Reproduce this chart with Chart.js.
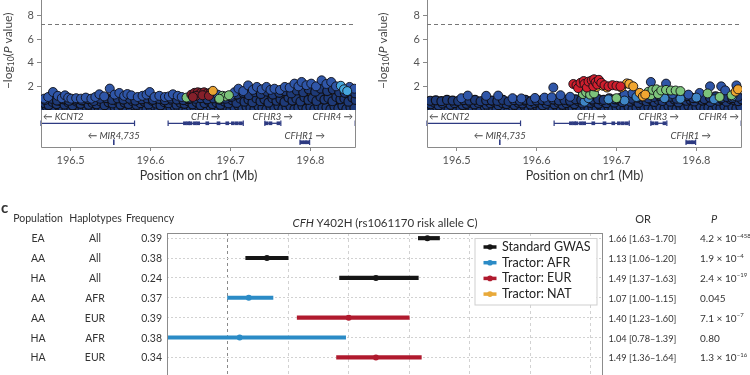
<!DOCTYPE html>
<html>
<head>
<meta charset="utf-8">
<script src="https://cdn.jsdelivr.net/npm/chart.js@4.4.1/dist/chart.umd.min.js"></script>
<style>
  body { margin: 0; width: 750px; height: 375px; overflow: hidden; background: #fff; position: relative; }
  canvas { position: absolute; }
  .lbl { position: absolute; white-space: nowrap; line-height: 1; color: #333; font-family: Lato, "Noto Sans", sans-serif; }
</style>
</head>
<body>
<canvas id="locusA" width="356" height="110" style="left:0;top:0"></canvas>
<canvas id="genesA" width="356" height="80" style="left:0;top:110px"></canvas>
<canvas id="locusB" width="367" height="110" style="left:375px;top:0"></canvas>
<canvas id="genesB" width="367" height="80" style="left:375px;top:110px"></canvas>
<canvas id="forest" width="750" height="205" style="left:0;top:195px"></canvas>
<script>
// ---- locus plots: [position (Mb), -log10 P] ----
const posMin = 196.463, posMax = 196.857;
const posTicks = [196.5, 196.6, 196.7, 196.8];
const logpTicks = [2, 4, 6, 8];
const gwsLine = 7.3;

const leftBand = [
  [196.465,.12],[196.470,.30],[196.475,.08],[196.480,.22],[196.485,.35],[196.490,.15],[196.495,.05],[196.500,.28],[196.505,.18],[196.510,.32],[196.515,.10],[196.520,.25],[196.525,.06],[196.530,.30],[196.535,.20],[196.540,.12],[196.545,.34],[196.550,.08],[196.555,.26],[196.560,.16],[196.565,.30],[196.570,.05],[196.575,.22],[196.580,.35],[196.585,.14],[196.590,.28],[196.595,.09],[196.600,.24],[196.605,.33],[196.610,.11],[196.615,.27],[196.620,.07],[196.625,.20],[196.630,.31],[196.635,.13],[196.640,.26],[196.645,.06],[196.650,.29],[196.655,.18],[196.660,.34],[196.665,.10],[196.670,.23],[196.675,.32],[196.680,.08],[196.685,.25],[196.690,.15],[196.695,.30],[196.700,.06],[196.705,.22],[196.710,.35],[196.715,.12],[196.720,.28],[196.725,.18],[196.730,.09],[196.735,.31],[196.740,.20],[196.745,.05],[196.750,.27],[196.755,.14],[196.760,.33],[196.765,.10],[196.770,.24],[196.775,.30],[196.780,.07],[196.785,.19],[196.790,.34],[196.795,.12],[196.800,.26],[196.805,.08],[196.810,.31],[196.815,.17],[196.820,.23],[196.825,.05],[196.830,.29],[196.835,.14],[196.840,.35],[196.845,.10],[196.850,.25],[196.855,.18],
  [196.4675,.55],[196.4725,.42],[196.4775,.68],[196.4825,.50],[196.4875,.75],[196.4925,.45],[196.4975,.62],[196.5025,.40],[196.5075,.70],[196.5125,.52],[196.5175,.78],[196.5225,.44],[196.5275,.60],[196.5325,.48],[196.5375,.72],[196.5425,.41],[196.5475,.65],[196.5525,.55],[196.5575,.80],[196.5625,.46],[196.5675,.63],[196.5725,.50],[196.5775,.74],[196.5825,.43],[196.5875,.58],[196.5925,.69],[196.5975,.47],[196.6025,.76],[196.6075,.53],[196.6125,.40],[196.6175,.66],[196.6225,.57],[196.6275,.79],[196.6325,.45],[196.6375,.61],[196.6425,.52],[196.6475,.73],[196.6525,.48],[196.6575,.67],[196.6625,.42],[196.6675,.59],[196.6725,.77],[196.6775,.50],[196.6825,.64],[196.6875,.44],[196.6925,.71],[196.6975,.56],[196.7025,.82],[196.7075,.60],[196.7125,.95],[196.7175,.70],[196.7225,.88],[196.7275,.65],[196.7325,.98],[196.7375,.75],[196.7425,.90],[196.7475,.62],[196.7525,1.0],[196.7575,.78],[196.7625,.92],[196.7675,.68],[196.7725,1.05],[196.7775,.80],[196.7825,.96],[196.7875,.72],[196.7925,1.08],[196.7975,.85],[196.8025,1.0],[196.8075,.76],[196.8125,1.12],[196.8175,.88],[196.8225,1.02],[196.8275,.74],[196.8325,1.1],[196.8375,.90],[196.8425,.98],[196.8475,.70],[196.8525,1.05],[196.8565,.85],
  [196.468,.85],[196.476,.95],[196.483,.80],[196.491,.90],[196.498,.78],[196.506,.88],[196.514,.82],[196.522,.92],[196.529,.76],[196.537,.95],[196.545,1.0],[196.552,.85],[196.559,.98],[196.566,.88],[196.574,.95],[196.581,.80],[196.589,.90],[196.596,.98],[196.603,.86],[196.611,.94],[196.618,.82],[196.626,.96],[196.633,.88],[196.641,.84],[196.648,.92],[196.656,.95],[196.663,1.0],[196.671,.90],[196.679,.98],[196.686,.88],[196.694,.95],[196.701,1.1],[196.708,1.3],[196.716,1.45],[196.723,1.25],[196.731,1.5],[196.738,1.35],[196.746,1.55],[196.753,1.3],[196.761,1.45],[196.768,1.6],[196.776,1.4],[196.783,1.65],[196.791,1.5],[196.798,1.75],[196.806,1.55],[196.813,1.8],[196.821,1.6],[196.828,1.75],[196.836,1.5],[196.843,1.45],[196.851,1.6],[196.856,1.4]
];
const leftUpper = [
  [196.467,.96],[196.472,1.1],[196.478,1.52],[196.484,1.2],[196.489,1.0],[196.493,1.24],[196.497,1.05],[196.501,.96],[196.507,1.0],[196.513,.96],[196.519,1.05],[196.526,.96],[196.531,1.1],[196.536,1.33],[196.542,1.15],[196.549,1.81],[196.555,1.3],[196.561,1.44],[196.567,1.2],[196.571,1.35],[196.576,1.24],[196.584,1.1],[196.590,1.2],[196.595,1.3],[196.599,1.52],[196.605,1.1],[196.611,1.2],[196.618,1.1],[196.623,1.15],[196.628,1.33],[196.634,1.2],[196.639,1.1],[196.647,1.0],[196.684,1.3],[196.700,1.2],[196.705,1.5],[196.710,1.8],[196.716,1.6],[196.722,2.08],[196.728,1.7],[196.733,1.95],[196.739,1.75],[196.745,1.95],[196.750,1.7],[196.755,1.8],[196.762,1.7],[196.768,1.95],[196.774,1.9],[196.780,2.23],[196.785,2.0],[196.789,2.37],[196.795,2.1],[196.801,2.23],[196.807,2.0],[196.814,2.51],[196.820,2.2],[196.826,2.37],[196.832,2.0],[196.849,1.95],[196.855,1.8]
];
const leftRed = [[196.651,1.3],[196.655,1.45],[196.659,1.5],[196.663,1.45],[196.667,1.5],[196.671,1.4],[196.675,1.45],[196.657,1.2],[196.665,1.25],[196.673,1.2],[196.653,1.1]];
const leftOrange = [[196.678,1.62]];
const leftGreen = [[196.645,1.05],[196.690,1.2],[196.694,1.15],[196.698,1.25],[196.686,.95]];
const leftCyan = [[196.838,2.05],[196.842,1.75],[196.846,1.6]];

const rightBand = [
  [196.465,.20],[196.470,.08],[196.475,.30],[196.480,.14],[196.485,.25],[196.490,.05],[196.495,.33],[196.500,.18],[196.505,.10],[196.510,.27],[196.515,.35],[196.520,.12],[196.525,.22],[196.530,.07],[196.535,.31],[196.540,.16],[196.545,.26],[196.550,.09],[196.555,.34],[196.560,.20],[196.565,.06],[196.570,.29],[196.575,.13],[196.580,.24],[196.585,.32],[196.590,.08],[196.595,.19],[196.600,.35],[196.605,.11],[196.610,.28],[196.615,.15],[196.620,.05],[196.625,.30],[196.630,.21],[196.635,.10],[196.640,.33],[196.645,.17],[196.650,.26],[196.655,.07],[196.660,.31],[196.665,.14],[196.670,.24],[196.675,.09],[196.680,.35],[196.685,.18],[196.690,.28],[196.695,.06],[196.700,.22],[196.705,.32],[196.710,.12],[196.715,.27],[196.720,.08],[196.725,.20],[196.730,.34],[196.735,.15],[196.740,.25],[196.745,.05],[196.750,.30],[196.755,.18],[196.760,.11],[196.765,.33],[196.770,.22],[196.775,.07],[196.780,.28],[196.785,.16],[196.790,.35],[196.795,.10],[196.800,.24],[196.805,.31],[196.810,.13],[196.815,.20],[196.820,.06],[196.825,.29],[196.830,.17],[196.835,.34],[196.840,.09],[196.845,.26],[196.850,.14],[196.855,.30],
  [196.4675,.48],[196.4725,.62],[196.4775,.40],[196.4825,.55],[196.4875,.66],[196.4925,.44],[196.4975,.58],[196.5025,.69],[196.5075,.42],[196.5125,.52],[196.5175,.64],[196.5225,.47],[196.5275,.60],[196.5325,.70],[196.5375,.45],[196.5425,.56],[196.5475,.67],[196.5525,.41],[196.5575,.59],[196.5625,.50],[196.5675,.68],[196.5725,.43],[196.5775,.61],[196.5825,.54],[196.5875,.70],[196.5925,.46],[196.5975,.57],[196.6025,.65],[196.6075,.40],[196.6125,.53],[196.6175,.69],[196.6225,.48],[196.6275,.62],[196.6325,.44],[196.6375,.58],[196.6425,.66],[196.6475,.50],[196.6525,.72],[196.6575,.55],[196.6625,.78],[196.6675,.60],[196.6725,.70],[196.6775,.52],[196.6825,.75],[196.6875,.58],[196.6925,.80],[196.6975,.62],[196.7025,.85],[196.7075,.66],[196.7125,.90],[196.7175,.70],[196.7225,.82],[196.7275,.60],[196.7325,.88],[196.7375,.74],[196.7425,.92],[196.7475,.68],[196.7525,.85],[196.7575,.76],[196.7625,.95],[196.7675,.70],[196.7725,.88],[196.7775,.64],[196.7825,.92],[196.7875,.78],[196.7925,.86],[196.7975,.72],[196.8025,.95],[196.8075,.80],[196.8125,.90],[196.8175,.68],[196.8225,.94],[196.8275,.78],[196.8325,.88],[196.8375,.70],[196.8425,.92],[196.8475,.82],[196.8525,.75],[196.8565,.90],
  [196.467,.78],[196.474,.82],[196.481,.75],[196.488,.85],[196.495,.80],[196.502,.76],[196.509,.84],[196.516,.79],[196.523,.86],[196.530,.74],[196.537,.82],[196.544,.80],[196.551,.77],[196.558,.85],[196.565,.72],[196.572,.83],[196.579,.78],[196.586,.86],[196.593,.75],[196.600,.81],[196.607,.84],[196.614,.76],[196.621,.88],[196.628,.80],[196.635,.85],[196.642,.78],[196.649,.90],[196.656,.86],[196.663,.95],[196.670,.88],[196.677,.92],[196.684,.85],[196.691,.98],[196.698,.90],[196.705,1.0],[196.712,1.1],[196.719,.95],[196.726,1.05],[196.733,1.15],[196.740,.98],[196.747,1.1],[196.754,1.2],[196.761,1.02],[196.768,1.12],[196.775,.95],[196.782,1.08],[196.789,1.18],[196.796,1.0],[196.803,1.1],[196.810,.92],[196.817,1.05],[196.824,1.15],[196.831,.98],[196.838,1.1],[196.845,1.0],[196.852,1.12]
];
const rightUpper = [[196.506,1.0],[196.514,1.22],[196.537,1.2],[196.552,1.22],[196.570,1.0],[196.581,.98],[196.598,1.02],[196.610,1.05],[196.619,1.08],[196.621,1.9],[196.630,1.25],[196.642,1.12],[196.710,1.3],[196.720,1.4],[196.743,2.37],[196.762,2.23],[196.770,1.35],[196.790,1.3],[196.804,1.44],[196.817,2.0],[196.831,2.0],[196.836,1.66],[196.850,2.08]];
const rightSteel = [[196.660,.7],[196.665,1.0],[196.690,.9],[196.710,.8],[196.725,1.1],[196.760,1.0],[196.780,.95],[196.800,1.05],[196.822,.9],[196.845,1.15]];
const rightRed = [[196.646,2.2],[196.650,2.1],[196.652,1.85],[196.655,2.3],[196.659,2.45],[196.660,2.2],[196.663,1.9],[196.665,2.4],[196.669,2.5],[196.671,2.0],[196.672,2.6],[196.674,2.35],[196.676,2.15],[196.678,2.55],[196.681,2.3],[196.685,2.1],[196.690,2.0],[196.695,2.1],[196.700,2.05],[196.705,2.0]];
const rightOrange = [[196.675,1.95],[196.683,2.05],[196.688,1.9],[196.706,1.9],[196.713,2.25],[196.716,2.2],[196.721,2.0],[196.729,1.45],[196.733,1.15],[196.736,1.3],[196.849,1.55],[196.852,1.75]];
const rightGreen = [[196.658,1.35],[196.662,1.5],[196.667,1.3],[196.672,1.4],[196.700,1.0],[196.740,1.55],[196.743,1.25],[196.745,1.7],[196.750,1.75],[196.752,1.35],[196.756,1.65],[196.762,1.7],[196.768,1.65],[196.774,1.65],[196.780,1.6],[196.814,1.4],[196.829,1.1],[196.844,1.25]];

// ---- genes ----
const geneNames  = ['KCNT2', 'MIR4,735', 'CFH', 'CFHR3', 'CFHR1', 'CFHR4'];
const geneStart  = [196.463, 196.554, 196.622, 196.743, 196.787, 196.856];
const geneEnd    = [196.580, 196.554, 196.716, 196.763, 196.799, 196.857];
const geneRow    = [0, 1, 0, 0, 1, 0];
const geneStrand = ['-', '-', '+', '+', '+', '+'];
const geneExons  = [[], [], [196.643,196.647,196.650,196.6555,196.6596,196.671,196.685,196.696,196.703,196.708,196.713], [196.745,196.750,196.760], [196.789,196.793,196.796], []];

// ---- panel c ----
const populations = ['EA', 'AA', 'HA', 'AA', 'AA', 'HA', 'HA'];
const haplotypes  = ['All', 'All', 'All', 'AFR', 'EUR', 'AFR', 'EUR'];
const frequencies = ['0.39', '0.38', '0.24', '0.37', '0.39', '0.38', '0.34'];
const oddsRatio = [1.66, 1.13, 1.49, 1.07, 1.40, 1.04, 1.49];
const ciLow     = [1.63, 1.06, 1.37, 1.00, 1.23, 0.78, 1.36];
const ciHigh    = [1.70, 1.20, 1.63, 1.15, 1.60, 1.39, 1.64];
const pMantissa = ['4.2', '1.9', '2.4', '0.045', '7.1', '0.80', '1.3'];
const pExponent = [-458, -4, -19, null, -7, null, -16];
const rowMethod = [0, 0, 0, 1, 2, 1, 2];
const methods = ['Standard GWAS', 'Tractor: AFR', 'Tractor: EUR', 'Tractor: NAT'];
const methodColors = ['#151515', '#2b8bc6', '#b01a2e', '#e8a93a'];
const orTicks = [0.8, 1.0, 1.2, 1.4, 1.6, 1.8, 2.0, 2.2];

const FONT = 'Lato, "Noto Sans", sans-serif';
Chart.defaults.font.family = FONT;
Chart.defaults.color = '#555';
const navy = '#2e3b82';

const toXY = arr => arr.map(p => ({x: p[0], y: p[1]}));
const noPad = s => { s.paddingTop = 0; s.paddingBottom = 0; s.paddingLeft = 0; s.paddingRight = 0; };
const baseOptions = {
  responsive: false, animation: false, devicePixelRatio: 1, events: [],
  plugins: {legend: {display: false}, tooltip: {enabled: false}}
};

const yTitle = {
  id: 'yTitle',
  afterDraw(chart) {
    const {ctx, scales: {y}} = chart;
    const parts = [['\u2212log', '12px ' + FONT, 0], ['10', '8.5px ' + FONT, 3], ['(', '12px ' + FONT, 0], ['P', 'italic 12px ' + FONT, 0], [' value)', '12px ' + FONT, 0]];
    ctx.save();
    ctx.translate(8, y.getPixelForValue(5));
    ctx.rotate(-Math.PI / 2);
    ctx.fillStyle = '#444';
    ctx.textBaseline = 'middle';
    ctx.textAlign = 'left';
    let w = 0;
    parts.forEach(p => { ctx.font = p[1]; w += ctx.measureText(p[0]).width; });
    let cx = -w / 2;
    parts.forEach(p => { ctx.font = p[1]; ctx.fillText(p[0], cx, p[2]); cx += ctx.measureText(p[0]).width; });
    ctx.restore();
  }
};

const gwsPlugin = {
  id: 'gws',
  beforeDatasetsDraw(chart) {
    const {ctx, chartArea: a, scales: {y}} = chart;
    const py = Math.round(y.getPixelForValue(gwsLine)) + 0.5;
    ctx.save();
    ctx.strokeStyle = '#777'; ctx.lineWidth = 1; ctx.setLineDash([4, 3]);
    ctx.beginPath(); ctx.moveTo(a.left, py); ctx.lineTo(a.right, py); ctx.stroke();
    ctx.restore();
  }
};

function locusChart(id, axisWidth, groups) {
  return new Chart(document.getElementById(id), {
    type: 'scatter',
    data: {
      datasets: groups.map(g => ({
        data: toXY(g[0]), backgroundColor: g[1], borderColor: '#101016', borderWidth: g[2] || 0.9,
        pointRadius: 4.5, clip: 0
      }))
    },
    options: {
      ...baseOptions,
      layout: {padding: 0, autoPadding: false},
      scales: {
        x: {type: 'linear', display: false, min: posMin, max: posMax},
        y: {
          min: 0, max: 9.3,
          afterBuildTicks: s => { s.ticks = logpTicks.map(v => ({value: v})); },
          afterFit: s => { s.width = axisWidth; noPad(s); },
          grid: {drawOnChartArea: false, tickLength: 4, color: '#888'},
          border: {color: '#888'},
          ticks: {color: '#555', font: {size: 11}, padding: 3}
        }
      }
    },
    plugins: [yTitle, gwsPlugin]
  });
}

const geneLabels = {
  id: 'geneLabels',
  afterDatasetsDraw(chart) {
    const {ctx, chartArea: a, scales: {x, y}} = chart;
    ctx.save();
    ctx.strokeStyle = '#8a8a8a'; ctx.lineWidth = 1;
    ctx.beginPath();
    ctx.moveTo(a.left + 0.5, a.top); ctx.lineTo(a.left + 0.5, a.bottom + 0.5);
    ctx.lineTo(a.right - 0.5, a.bottom + 0.5); ctx.lineTo(a.right - 0.5, a.top);
    ctx.stroke();
    ctx.font = 'italic 9.5px ' + FONT; ctx.fillStyle = '#444'; ctx.textBaseline = 'middle'; ctx.textAlign = 'left';
    geneNames.forEach((name, i) => {
      const text = geneStrand[i] === '-' ? '\u2190 ' + name : name + ' \u2192';
      const w = ctx.measureText(text).width;
      let px;
      if (geneStart[i] <= posMin) px = a.left + 2;
      else if (geneEnd[i] >= posMax) px = a.right - 3 - w;
      else px = x.getPixelForValue((geneStart[i] + geneEnd[i]) / 2) - w / 2;
      ctx.fillText(text, px, y.getPixelForValue(geneRow[i]) - 6);
    });
    ctx.restore();
  }
};

function geneChart(id, axisWidth) {
  const datasets = [];
  geneNames.forEach((name, i) => {
    datasets.push({
      type: 'line', data: [{x: geneStart[i], y: geneRow[i]}, {x: geneEnd[i], y: geneRow[i]}],
      borderColor: navy, borderWidth: 1.3, pointStyle: 'line', pointRotation: 90,
      pointRadius: 2.8, pointBorderColor: navy, pointBorderWidth: 1.2, clip: false
    });
    if (geneExons[i].length) {
      datasets.push({
        type: 'scatter', data: geneExons[i].map(e => ({x: e, y: geneRow[i]})),
        pointStyle: 'rect', pointRadius: 2.6, backgroundColor: navy, borderWidth: 0
      });
    }
  });
  return new Chart(document.getElementById(id), {
    type: 'scatter',
    data: {datasets},
    options: {
      ...baseOptions,
      layout: {padding: 0, autoPadding: false},
      scales: {
        x: {
          type: 'linear', min: posMin, max: posMax,
          afterBuildTicks: s => { s.ticks = posTicks.map(v => ({value: v})); },
          afterFit: s => { s.height = 43; noPad(s); },
          ticks: {callback: v => v.toFixed(1), color: '#555', font: {size: 11}, padding: 3, maxRotation: 0},
          grid: {drawOnChartArea: false, tickLength: 4, color: '#888'},
          border: {display: false},
          title: {display: true, text: 'Position on chr1 (Mb)', color: '#333', font: {size: 12.5}, padding: {top: 0, bottom: 6.5}}
        },
        y: {
          min: -0.7, max: 1.25, reverse: true,
          afterFit: s => { s.width = axisWidth; noPad(s); },
          ticks: {display: false}, grid: {display: false}, border: {display: false}
        }
      }
    },
    plugins: [geneLabels]
  });
}

locusChart('locusA', 41, [[leftCyan, '#45a6dc'], [leftOrange, '#e9a332'], [leftRed, '#86202a'], [leftGreen, '#7cc37a'], [leftUpper, '#2f56a8'], [leftBand, '#1e3a78', 1.2]]);
geneChart('genesA', 41);
locusChart('locusB', 52, [[rightRed, '#cf1f2d'], [rightOrange, '#f0a631'], [rightGreen, '#7dc47b'], [rightSteel, '#3f86c6'], [rightUpper, '#2f56a8'], [rightBand, '#1e3a78', 1.2]]);
geneChart('genesB', 52);

// ---- panel c: forest plot ----
const forestFrame = {
  id: 'forestFrame',
  afterDraw(chart) {
    const {ctx, chartArea: a} = chart;
    ctx.save();
    ctx.strokeStyle = '#8c8c8c'; ctx.lineWidth = 1;
    ctx.strokeRect(a.left + 0.5, a.top + 0.5, a.right - a.left - 1, a.bottom - a.top);
    // legend box built from the series list
    const lx = a.right - 128.5, ly = a.top + 5, lw = 122, lh = 66.5;
    ctx.fillStyle = '#fff'; ctx.fillRect(lx, ly, lw, lh);
    ctx.strokeStyle = '#cfcfcf'; ctx.lineWidth = 1; ctx.strokeRect(lx + 0.5, ly + 0.5, lw, lh);
    ctx.font = '12.5px ' + FONT; ctx.textAlign = 'left'; ctx.textBaseline = 'middle';
    methods.forEach((m, k) => {
      const ey = ly + 9 + k * 15.7;
      ctx.strokeStyle = methodColors[k]; ctx.lineWidth = 3.5;
      ctx.beginPath(); ctx.moveTo(lx + 9, ey); ctx.lineTo(lx + 22, ey); ctx.stroke();
      ctx.fillStyle = methodColors[k];
      ctx.beginPath(); ctx.arc(lx + 15.5, ey, 2.8, 0, Math.PI * 2); ctx.fill();
      ctx.fillStyle = '#222';
      ctx.fillText(m, lx + 27.5, ey);
    });
    ctx.restore();
  }
};

const forestSets = [];
methods.forEach((m, k) => {
  const rows = rowMethod.map((r, i) => r === k ? i : -1).filter(i => i >= 0);
  forestSets.push({
    type: 'bar', indexAxis: 'y', label: m, grouped: false, barThickness: 3.5, clip: 0,
    backgroundColor: methodColors[k], borderWidth: 0,
    data: rows.map(i => ({x: [ciLow[i], ciHigh[i]], y: i}))
  });
  forestSets.push({
    type: 'scatter', label: m, indexAxis: 'x', pointRadius: 3, backgroundColor: methodColors[k], borderWidth: 0,
    data: rows.map(i => ({x: oddsRatio[i], y: i}))
  });
});

const forestTop = 195;
const forest = new Chart(document.getElementById('forest'), {
  type: 'scatter',
  data: {datasets: forestSets},
  options: {
    ...baseOptions,
    layout: {padding: {left: 167, right: 147, top: 38, bottom: 10}, autoPadding: false},
    scales: {
      x: {
        type: 'linear', min: 0.8, max: 2.24, offset: false,
        afterBuildTicks: s => { s.ticks = orTicks.map(v => ({value: v})); },
        afterFit: s => { s.height = 0; noPad(s); },
        ticks: {display: false},
        grid: {drawTicks: false, offset: false, color: c => c.tick && c.tick.value === 1 ? '#8a8a8a' : '#d2d2d2'},
        border: {display: false, dash: [3, 3]}
      },
      y: {
        type: 'linear', min: -0.26, max: 7.64, reverse: true, offset: false,
        afterBuildTicks: s => { s.ticks = populations.map((p, i) => ({value: i})); },
        afterFit: s => { s.width = 0; noPad(s); },
        ticks: {display: false},
        grid: {drawTicks: false, offset: false, color: '#d2d2d2'},
        border: {display: false, dash: [2, 2]}
      }
    }
  },
  plugins: [forestFrame]
});

// table text beside the forest plot, placed on the chart's own row scale
function label(html, x, y, align, font) {
  const d = document.createElement('div');
  d.className = 'lbl';
  d.innerHTML = html;
  if (font) d.style.font = font;
  d.style.left = x + 'px';
  d.style.top = y + 'px';
  const tx = align === 'center' ? '-50%' : align === 'right' ? '-100%' : '0';
  d.style.transform = 'translate(' + tx + ',-50%)';
  document.body.appendChild(d);
}
const fa = forest.chartArea, fy = forest.scales.y;
const F = ' Lato, "Noto Sans", sans-serif';
label('c', 1, forestTop + fa.top - 26, 'left', 'bold 15px' + F);
label('Population', 38, forestTop + fa.top - 15, 'center', '10.5px' + F);
label('Haplotypes', 95.5, forestTop + fa.top - 15, 'center', '10.5px' + F);
label('Frequency', 150, forestTop + fa.top - 15, 'center', '10.5px' + F);
label('OR', fa.right + 40, forestTop + fa.top - 15, 'center', '11px' + F);
label('<i>P</i>', fa.right + 111, forestTop + fa.top - 15, 'center', '11px' + F);
label('<i>CFH</i> Y402H (rs1061170 risk allele C)', (fa.left + fa.right) / 2, forestTop + fa.top - 11, 'center', '11.5px' + F);
populations.forEach((pop, i) => {
  const py = forestTop + fy.getPixelForValue(i);
  label(pop, 38, py, 'center', '10.5px' + F);
  label(haplotypes[i], 95, py, 'center', '10.5px' + F);
  label(frequencies[i], fa.left - 5, py, 'right', '10.5px' + F);
  label(oddsRatio[i].toFixed(2) + ' [' + ciLow[i].toFixed(2) + '\u2013' + ciHigh[i].toFixed(2) + ']', fa.right + 5.5, py, 'left', '9.2px' + F);
  const p = pExponent[i] === null ? pMantissa[i]
    : pMantissa[i] + ' \u00d7 10<span style="font-size:6px;position:relative;top:-4.5px;margin-left:0.3px">\u2212' + Math.abs(pExponent[i]) + '</span>';
  label(p, fa.right + 97, py, 'left', '10px' + F);
});
</script>
</body>
</html>
